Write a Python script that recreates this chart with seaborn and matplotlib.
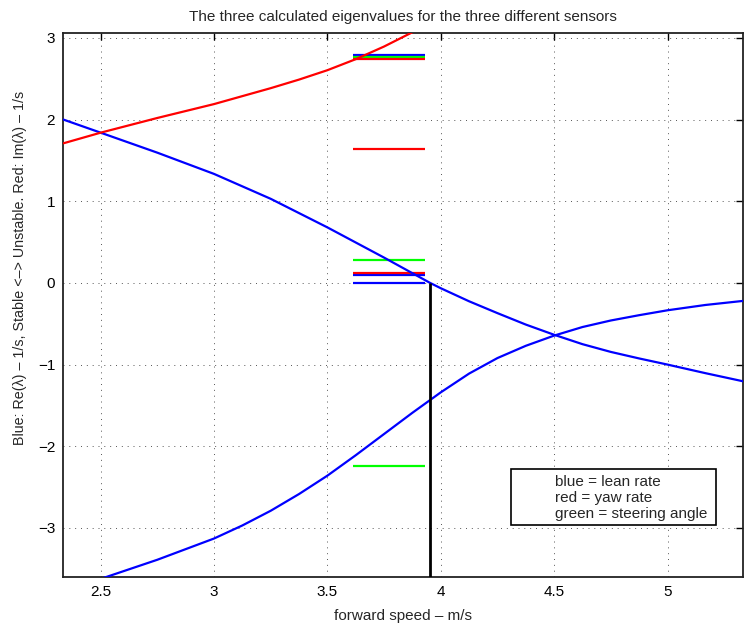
import seaborn as sns
import matplotlib.pyplot as plt
import matplotlib.patches as mpatches
import pandas as pd

# forward speed (m/s) and eigenvalues
weave_speed = [2.336, 2.5, 2.75, 3.0, 3.25, 3.5, 3.75, 3.953, 4.0, 4.125, 4.25, 4.375,
               4.5, 4.625, 4.75, 4.875, 5.0, 5.167, 5.334]
weave_re = [2.00, 1.84, 1.595, 1.335, 1.03, 0.68, 0.31, 0.0, -0.065, -0.225, -0.37, -0.51,
            -0.635, -0.75, -0.845, -0.925, -1.00, -1.105, -1.205]

lower_speed = [2.45, 2.526, 2.75, 3.0, 3.125, 3.25, 3.375, 3.5, 3.625, 3.75, 3.875, 4.0,
               4.125, 4.25, 4.375, 4.5, 4.625, 4.75, 4.875, 5.0, 5.167, 5.334]
lower_re = [-3.67, -3.60, -3.39, -3.13, -2.97, -2.79, -2.585, -2.36, -2.11, -1.85, -1.59, -1.34,
            -1.11, -0.92, -0.77, -0.645, -0.54, -0.46, -0.395, -0.335, -0.27, -0.22]

red_speed = [2.336, 2.5, 2.75, 3.0, 3.25, 3.375, 3.5, 3.625, 3.75, 3.875, 4.0]
red_im = [1.71, 1.84, 2.02, 2.19, 2.385, 2.49, 2.605, 2.74, 2.895, 3.07, 3.27]

# sensor eigenvalues (horizontal segments)
seg_start, seg_end = 3.614, 3.931
blue_levels = [2.794, 0.099, 0.0]
red_levels = [2.742, 1.644, 0.120]
green_levels = [2.768, 0.279, -2.245]

weave_limit = 3.953

df = pd.concat([
    pd.DataFrame({'speed': weave_speed, 'value': weave_re, 'curve': 'weave'}),
    pd.DataFrame({'speed': lower_speed, 'value': lower_re, 'curve': 'lower'}),
    pd.DataFrame({'speed': red_speed, 'value': red_im, 'curve': 'im'}),
])

sns.set_theme(style="white")
plt.rcParams['font.family'] = ['Liberation Sans', 'DejaVu Sans']

fig = plt.figure(figsize=(7.44, 6.26), dpi=100)
ax = fig.add_axes([0.0853, 0.0783, 0.9137, 0.8697])

# horizontal segments for the sensors
ax.hlines(blue_levels, seg_start, seg_end, color='#0000ff', lw=1.6, zorder=3)
ax.hlines(green_levels, seg_start, seg_end, color='#00ff00', lw=1.6, zorder=3)
ax.hlines(red_levels, seg_start, seg_end, color='#ff0000', lw=1.6, zorder=3)

sns.lineplot(data=df, x='speed', y='value', hue='curve', units='curve',
             estimator=None, sort=False, legend=False, lw=1.6, ax=ax, zorder=4,
             palette={'weave': '#0000ff', 'lower': '#0000ff', 'im': '#ff0000'})

ax.vlines(weave_limit, -3.6, 0.0, color='black', lw=2.0, zorder=5)

ax.set_xlim(2.336, 5.334)
ax.set_ylim(-3.601, 3.066)
ax.set_xticks([2.5, 3, 3.5, 4, 4.5, 5])
ax.set_xticklabels(['2.5', '3', '3.5', '4', '4.5', '5'])
ax.set_yticks([-3, -2, -1, 0, 1, 2, 3])
ax.set_yticklabels(['\u22123', '\u22122', '\u22121', '0', '1', '2', '3'])

ax.grid(True, color='#555555', linestyle=(0, (1, 5)), lw=0.7)
ax.tick_params(direction='in', length=5, width=1.0, top=True, right=True,
               labelsize=11, colors='black', pad=6)
for s in ax.spines.values():
    s.set_visible(True)
    s.set_color('#222222')
    s.set_linewidth(1.3)

ax.set_title('The three calculated eigenvalues for the three different sensors',
             fontsize=11, pad=8)
ax.set_xlabel('forward speed \u2013 m/s', fontsize=11, labelpad=7)
ax.set_ylabel('Blue: Re(\u03bb) \u2013 1/s, Stable <\u2013> Unstable. Red: Im(\u03bb) \u2013 1/s',
              fontsize=10.3)
ax.yaxis.set_label_coords(-0.054, 0.567)

# text box
ax.add_patch(mpatches.Rectangle((0.659, 0.0946), 0.301, 0.1034, transform=ax.transAxes,
                                facecolor='white', edgecolor='black', lw=1.2, zorder=6))
ax.text(0.723, 0.145, 'blue = lean rate\nred = yaw rate\ngreen = steering angle',
        transform=ax.transAxes, ha='left', va='center', fontsize=11,
        linespacing=1.2, zorder=7)

plt.savefig('out.png', dpi=100)
